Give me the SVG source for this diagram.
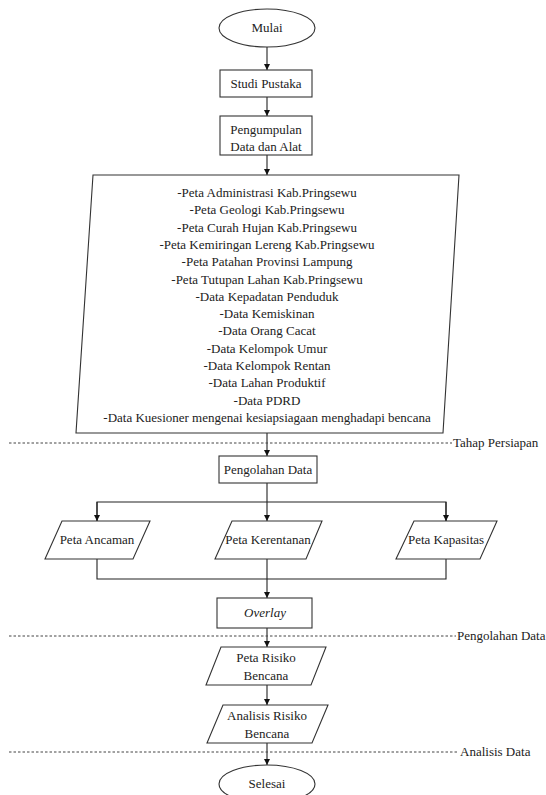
<svg xmlns="http://www.w3.org/2000/svg" width="546" height="795" viewBox="0 0 546 795">
<defs>
<style>
.shape{fill:#fff;stroke:#333;stroke-width:1.1}
.t{font-family:"Liberation Serif","Times New Roman",serif;font-size:13px;fill:#222;text-anchor:middle}
.lbl{font-family:"Liberation Serif","Times New Roman",serif;font-size:13px;fill:#222}
.c{fill:none;stroke:#222;stroke-width:1.1}
.d{fill:none;stroke:#444;stroke-width:1;stroke-dasharray:2.5,2}
</style>
<marker id="ah" viewBox="0 0 10 10" refX="10" refY="5" markerWidth="6" markerHeight="8" markerUnits="userSpaceOnUse" orient="auto">
<path d="M0,0 L10,5 L0,10 Z" fill="#111"/>
</marker>
</defs>
<rect width="546" height="795" fill="#fff"/>

<g id="connectors">
<path class="c" d="M267,47 V70" marker-end="url(#ah)"/>
<path class="c" d="M267,97 V116" marker-end="url(#ah)"/>
<path class="c" d="M267,155 V175" marker-end="url(#ah)"/>
<path class="c" d="M267,433 V456" marker-end="url(#ah)"/>
<path class="c" d="M267,483 V521" marker-end="url(#ah)"/>
<path class="c" d="M97,521 V502 H446 V521"/>
<path class="c" d="M97,502 V521" marker-end="url(#ah)"/>
<path class="c" d="M446,502 V521" marker-end="url(#ah)"/>
<path class="c" d="M97,559 V579 H446 V559"/>
<path class="c" d="M267,559 V598" marker-end="url(#ah)"/>
<path class="c" d="M267,628 V647" marker-end="url(#ah)"/>
<path class="c" d="M267,685 V705" marker-end="url(#ah)"/>
<path class="c" d="M267,743 V765" marker-end="url(#ah)"/>
</g>

<g id="phases">
<line class="d" x1="9" y1="443" x2="452" y2="443"/>
<text class="lbl" x="453" y="447">Tahap Persiapan</text>
<line class="d" x1="9" y1="636" x2="456" y2="636"/>
<text class="lbl" x="457" y="640">Pengolahan Data</text>
<line class="d" x1="9" y1="752" x2="457" y2="752"/>
<text class="lbl" x="460" y="756">Analisis Data</text>
</g>

<g id="mulai">
<ellipse class="shape" cx="267" cy="28" rx="48" ry="19"/>
<text class="t" x="267" y="32">Mulai</text>
</g>

<g id="studi-pustaka">
<rect class="shape" x="220" y="70" width="92" height="27"/>
<text class="t" x="266" y="88">Studi Pustaka</text>
</g>

<g id="pengumpulan">
<rect class="shape" x="220" y="116" width="92" height="39"/>
<text class="t" x="266" y="134">Pengumpulan</text>
<text class="t" x="266" y="151">Data dan Alat</text>
</g>

<g id="data-list">
<polygon class="shape" points="93,175 459,175 443,433 76,433"/>
<text class="t" x="267" y="197">-Peta Administrasi Kab.Pringsewu</text>
<text class="t" x="267" y="214.3">-Peta Geologi Kab.Pringsewu</text>
<text class="t" x="267" y="231.6">-Peta Curah Hujan Kab.Pringsewu</text>
<text class="t" x="267" y="248.9">-Peta Kemiringan Lereng Kab.Pringsewu</text>
<text class="t" x="267" y="266.2">-Peta Patahan Provinsi Lampung</text>
<text class="t" x="267" y="283.5">-Peta Tutupan Lahan Kab.Pringsewu</text>
<text class="t" x="267" y="300.8">-Data Kepadatan Penduduk</text>
<text class="t" x="267" y="318.1">-Data Kemiskinan</text>
<text class="t" x="267" y="335.4">-Data Orang Cacat</text>
<text class="t" x="267" y="352.7">-Data Kelompok Umur</text>
<text class="t" x="267" y="370">-Data Kelompok Rentan</text>
<text class="t" x="267" y="387.3">-Data Lahan Produktif</text>
<text class="t" x="267" y="404.6">-Data PDRD</text>
<text class="t" x="267" y="421.9">-Data Kuesioner mengenai kesiapsiagaan menghadapi bencana</text>
</g>

<g id="pengolahan-data">
<rect class="shape" x="219" y="456" width="98" height="27"/>
<text class="t" x="268" y="474">Pengolahan Data</text>
</g>

<g id="peta-ancaman">
<polygon class="shape" points="62,521 150,521 133,559 45,559"/>
<text class="t" x="97" y="544">Peta Ancaman</text>
</g>

<g id="peta-kerentanan">
<polygon class="shape" points="232,521 322,521 306,559 215,559"/>
<text class="t" x="268" y="544">Peta Kerentanan</text>
</g>

<g id="peta-kapasitas">
<polygon class="shape" points="414,521 497,521 480,559 396,559"/>
<text class="t" x="446" y="544">Peta Kapasitas</text>
</g>

<g id="overlay">
<rect class="shape" x="217" y="598" width="95" height="30"/>
<text class="t" x="265" y="617" font-style="italic">Overlay</text>
</g>

<g id="peta-risiko">
<polygon class="shape" points="221,647 326,647 311,685 206,685"/>
<text class="t" x="266" y="662">Peta Risiko</text>
<text class="t" x="266" y="680">Bencana</text>
</g>

<g id="analisis-risiko">
<polygon class="shape" points="223,705 328,705 312,743 207,743"/>
<text class="t" x="267" y="720">Analisis Risiko</text>
<text class="t" x="267" y="738">Bencana</text>
</g>

<g id="selesai">
<ellipse class="shape" cx="267" cy="784" rx="48" ry="19"/>
<text class="t" x="267" y="788">Selesai</text>
</g>
</svg>
